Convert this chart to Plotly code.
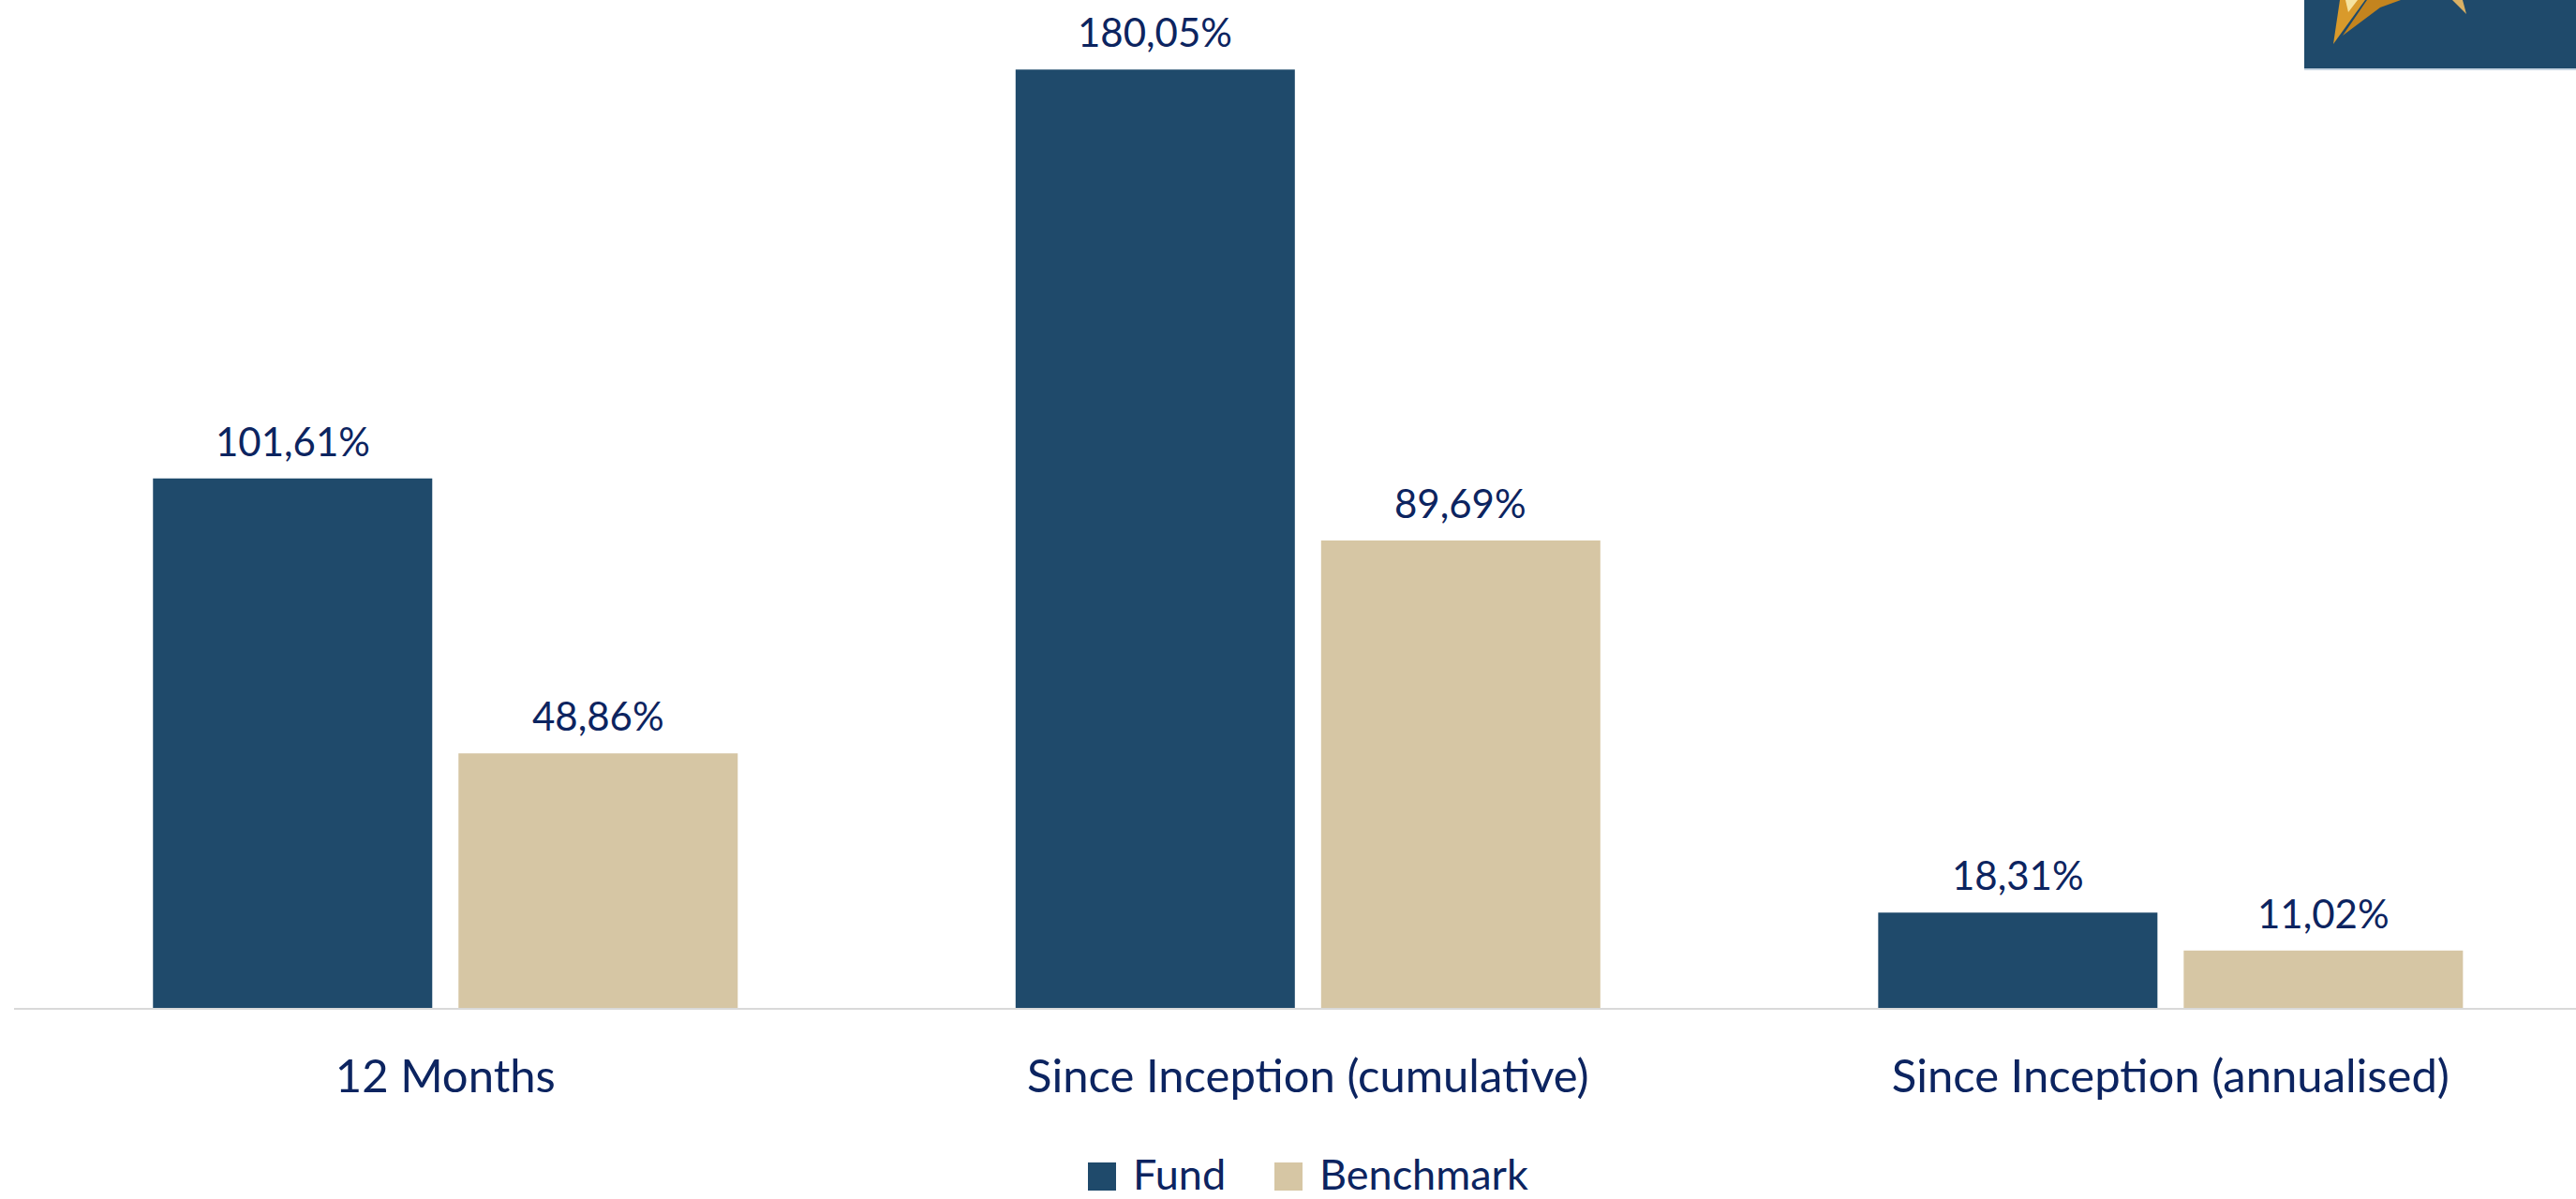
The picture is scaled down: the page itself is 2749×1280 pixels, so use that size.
import plotly.graph_objects as go

# Performance figures (%)
categories = ["12 Months", "Since Inception (cumulative)", "Since Inception (annualised)"]
fund_values = [101.61, 180.05, 18.31]
benchmark_values = [48.86, 89.69, 11.02]
series_names = ["Fund", "Benchmark"]

FUND_COLOR = "#1f4a6b"
BENCH_COLOR = "#d6c6a4"
TEXT_COLOR = "#0c2460"
FONT = "Lato"

W, H = 2749, 1280
M_L, M_R, M_T, M_B = 15, 0, 0, 204

BARGAP = 0.2917
BARGROUPGAP = 0.0859

def fmt(v):
    return f"{v:.2f}".replace(".", ",") + "%"

fig = go.Figure()
for name, vals, color in [(series_names[0], fund_values, FUND_COLOR),
                          (series_names[1], benchmark_values, BENCH_COLOR)]:
    fig.add_trace(go.Bar(
        x=list(range(len(categories))), y=vals, name=name,
        marker=dict(color=color, line=dict(width=0)),
        showlegend=False, hoverinfo="skip",
    ))

# value labels above each bar
slot = (1 - BARGAP) / 2
for i in range(len(categories)):
    for vals, dx in [(fund_values, -slot / 2), (benchmark_values, slot / 2)]:
        fig.add_annotation(
            x=i + dx, y=vals[i], xref="x", yref="y",
            text=fmt(vals[i]), showarrow=False,
            xanchor="center", yanchor="bottom", yshift=13,
            font=dict(family=FONT, size=42, color=TEXT_COLOR),
        )

# pixel -> paper helpers for decorations
PW = W - M_L - M_R
PH = H - M_T - M_B
def px(x):
    return (x - M_L) / PW
def py(y):
    return (PH + M_T - y) / PH

shapes = []
# custom legend
legend_items = [(series_names[0], FUND_COLOR, 1161, 1207),
                (series_names[1], BENCH_COLOR, 1360, 1406)]
for label, color, sx, tx in legend_items:
    shapes.append(dict(type="rect", xref="paper", yref="paper",
                       x0=px(sx), x1=px(sx + 30), y0=py(1271), y1=py(1241),
                       fillcolor=color, line=dict(width=0), layer="above"))
    fig.add_annotation(x=px(tx), y=py(1253), xref="paper", yref="paper",
                       text=label, showarrow=False, xanchor="left", yanchor="middle",
                       font=dict(family=FONT, size=45, color=TEXT_COLOR))

# corner logo block
shapes.append(dict(type="rect", xref="paper", yref="paper",
                   x0=px(2459), x1=px(2749), y0=py(73), y1=py(0),
                   fillcolor="#1f4a6b", line=dict(width=0), layer="above"))
shapes.append(dict(type="line", xref="paper", yref="paper",
                   x0=px(2459), x1=px(2749), y0=py(74), y1=py(74),
                   line=dict(color="#c5d3e0", width=2), layer="above"))

def path(points):
    s = "M " + " L ".join(f"{px(x):.5f},{py(y):.5f}" for x, y in points) + " Z"
    return s

for pts, col in [
    ([(2497, 0), (2524, 0), (2490, 47)], "#d99a2b"),
    ([(2526, 0), (2562, 0), (2540, 8), (2500, 38)], "#c4841e"),
    ([(2503, 0), (2516, 0), (2506, 13)], "#f6e3a0"),
    ([(2617, 0), (2628, 0), (2632, 15)], "#d9b064"),
]:
    shapes.append(dict(type="path", xref="paper", yref="paper", path=path(pts),
                       fillcolor=col, line=dict(width=0), layer="above"))

fig.update_layout(
    width=W, height=H,
    margin=dict(l=M_L, r=M_R, t=M_T, b=M_B, pad=0),
    paper_bgcolor="white", plot_bgcolor="white",
    barmode="group", bargap=BARGAP, bargroupgap=BARGROUPGAP,
    shapes=shapes,
    font=dict(family=FONT, color=TEXT_COLOR),
    xaxis=dict(
        range=[-0.5, 2.47], tickmode="array",
        tickvals=list(range(len(categories))), ticktext=categories,
        showline=True, linecolor="#d9d9d9", linewidth=2,
        showgrid=False, zeroline=False, ticks="",
        tickfont=dict(family=FONT, size=49, color=TEXT_COLOR),
        ticklabelstandoff=29,
    ),
    yaxis=dict(range=[0, 193.4], visible=False, showgrid=False, zeroline=False),
)

fig.write_html("out.html")
